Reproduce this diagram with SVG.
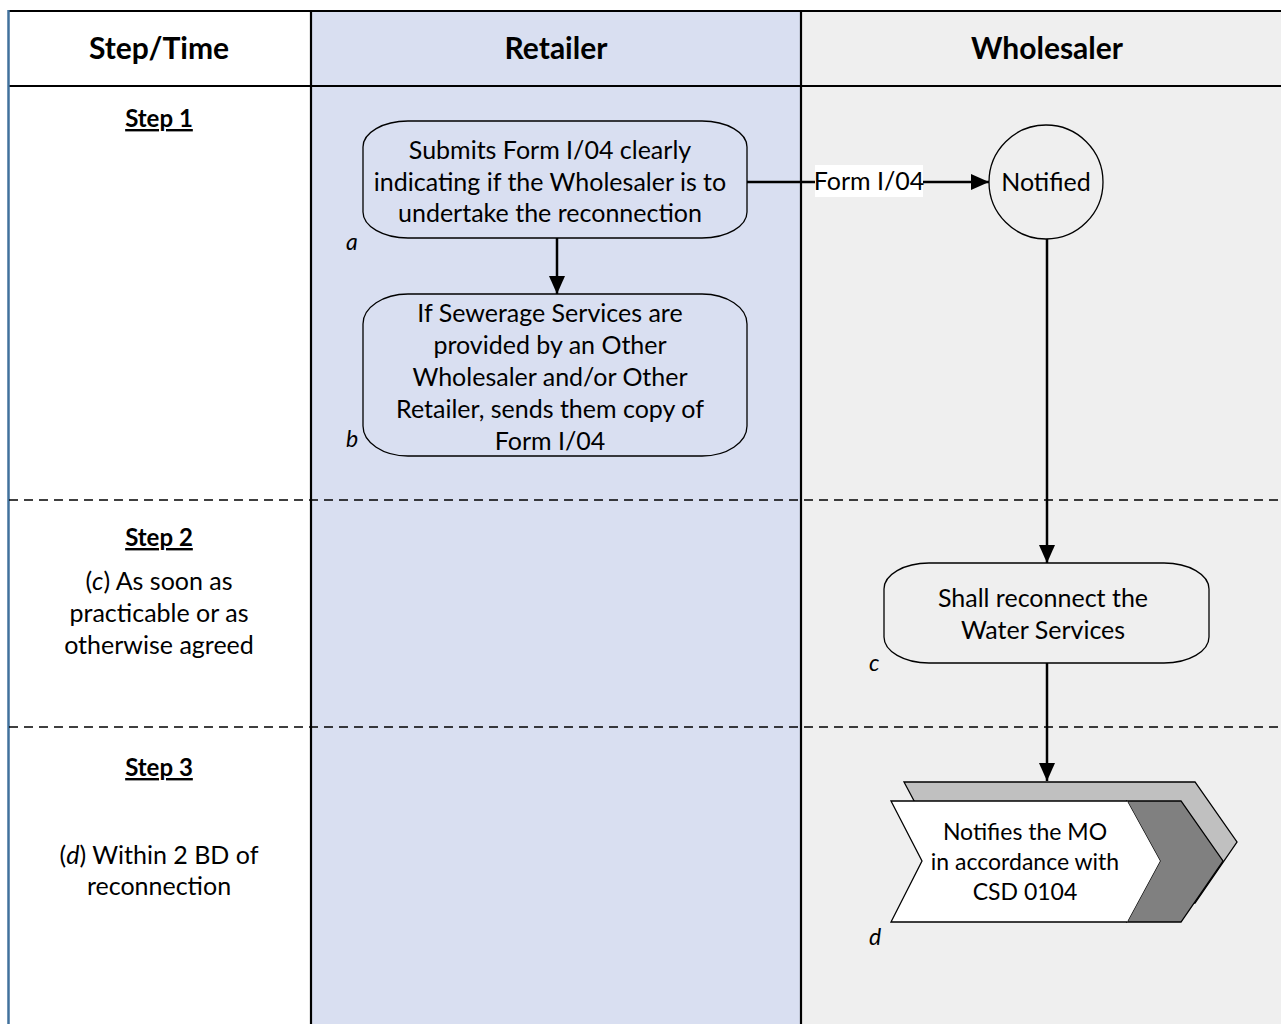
<svg xmlns="http://www.w3.org/2000/svg" width="1281" height="1024" viewBox="0 0 1281 1024">
<style>
text{font-family:Lato,"Liberation Sans",sans-serif;fill:#000;text-anchor:middle}
.hd{font-size:30px;font-weight:bold}
.st{font-size:24px;font-weight:bold;text-decoration:underline}
.tx{font-size:25px}
.sm{font-size:23px}
.lb{font-size:23px;font-style:italic;text-anchor:start}
.shape{fill:none;stroke:#000;stroke-width:1.3}
.conn{stroke:#000;stroke-width:2.5;fill:none}
.grid{stroke:#000;stroke-width:2.2}
.dash{stroke:#000;stroke-width:1.3;stroke-dasharray:9 6}
</style>
<defs>
<marker id="ah" markerUnits="userSpaceOnUse" markerWidth="18" markerHeight="16" refX="18" refY="8" orient="auto">
<path d="M0,0 L18,8 L0,16 Z" fill="#000"/>
</marker>
</defs>
<rect x="0" y="0" width="1281" height="1024" fill="#fff"/>
<g id="lanes">
<rect x="8" y="10" width="303" height="1014" fill="#fff"/>
<rect x="311" y="10" width="490" height="1014" fill="#d9dff1"/>
<rect x="801" y="10" width="480" height="1014" fill="#efefef"/>
<line class="grid" x1="8" y1="11" x2="1281" y2="11"/>
<line class="grid" x1="8" y1="86" x2="1281" y2="86"/>
<line class="grid" x1="311" y1="10" x2="311" y2="1024"/>
<line class="grid" x1="801" y1="10" x2="801" y2="1024"/>
<line x1="8.5" y1="10" x2="8.5" y2="1024" stroke="#41719c" stroke-width="2.5"/>
<line class="dash" x1="9" y1="500" x2="1281" y2="500"/>
<line class="dash" x1="9" y1="727" x2="1281" y2="727"/>
<text class="hd" x="159" y="59">Step/Time</text>
<text class="hd" x="556" y="59">Retailer</text>
<text class="hd" x="1047" y="59">Wholesaler</text>
<text class="st" x="159" y="127">Step 1</text>
<text class="st" x="159" y="546">Step 2</text>
<text class="tx" x="159" y="590">(<tspan font-style="italic">c</tspan>) As soon as</text>
<text class="tx" x="159" y="622">practicable or as</text>
<text class="tx" x="159" y="654">otherwise agreed</text>
<text class="st" x="159" y="776">Step 3</text>
<text class="tx" x="159" y="864">(<tspan font-style="italic">d</tspan>) Within 2 BD of</text>
<text class="tx" x="159" y="895">reconnection</text>
</g>
<g id="connectors">
<line class="conn" x1="557" y1="238" x2="557" y2="294" marker-end="url(#ah)"/>
<line class="conn" x1="747" y1="182" x2="989" y2="182" marker-end="url(#ah)"/>
<rect x="815" y="165" width="108" height="32" fill="#fff"/>
<text class="tx" x="869" y="190">Form I/04</text>
<line class="conn" x1="1047" y1="239" x2="1047" y2="563" marker-end="url(#ah)"/>
<line class="conn" x1="1047" y1="663" x2="1047" y2="781" marker-end="url(#ah)"/>
</g>
<g id="node-a">
<rect class="shape" x="363" y="121" width="384" height="117" rx="45" ry="26"/>
<text class="tx" x="550" y="159">Submits Form I/04 clearly</text>
<text class="tx" x="550" y="191">indicating if the Wholesaler is to</text>
<text class="tx" x="550" y="222">undertake the reconnection</text>
<text class="lb" x="346" y="250">a</text>
</g>
<g id="node-b">
<rect class="shape" x="363" y="294" width="384" height="162" rx="45" ry="30"/>
<text class="tx" x="550" y="322">If Sewerage Services are</text>
<text class="tx" x="550" y="354">provided by an Other</text>
<text class="tx" x="550" y="386">Wholesaler and/or Other</text>
<text class="tx" x="550" y="418">Retailer, sends them copy of</text>
<text class="tx" x="550" y="450">Form I/04</text>
<text class="lb" x="346" y="447">b</text>
</g>
<g id="node-notified">
<circle class="shape" cx="1046" cy="182" r="57"/>
<text class="tx" x="1046" y="191">Notified</text>
</g>
<g id="node-c">
<rect class="shape" x="884" y="563" width="325" height="100" rx="45" ry="26"/>
<text class="tx" x="1043" y="607">Shall reconnect the</text>
<text class="tx" x="1043" y="639">Water Services</text>
<text class="lb" x="869" y="671">c</text>
</g>
<g id="node-d">
<polygon points="904,782 1195,782 1237,842 1195,903 904,903 936,842" fill="#c0c0c0" stroke="#000" stroke-width="1.3"/>
<polygon points="1127,801 1181,801 1223,861 1181,922 1127,922 1160,861" fill="#808080" stroke="#000" stroke-width="1.3"/>
<polygon points="891,801 1127,801 1160,861 1127,922 891,922 922,861" fill="#fff" stroke="none"/>
<polyline points="1127,801 891,801 922,861 891,922 1127,922" fill="none" stroke="#000" stroke-width="1.3"/>
<text class="sm" x="1025" y="840">Notifies the MO</text>
<text class="sm" x="1025" y="870">in accordance with</text>
<text class="sm" x="1025" y="900">CSD 0104</text>
<text class="lb" x="869" y="945">d</text>
</g>
</svg>
